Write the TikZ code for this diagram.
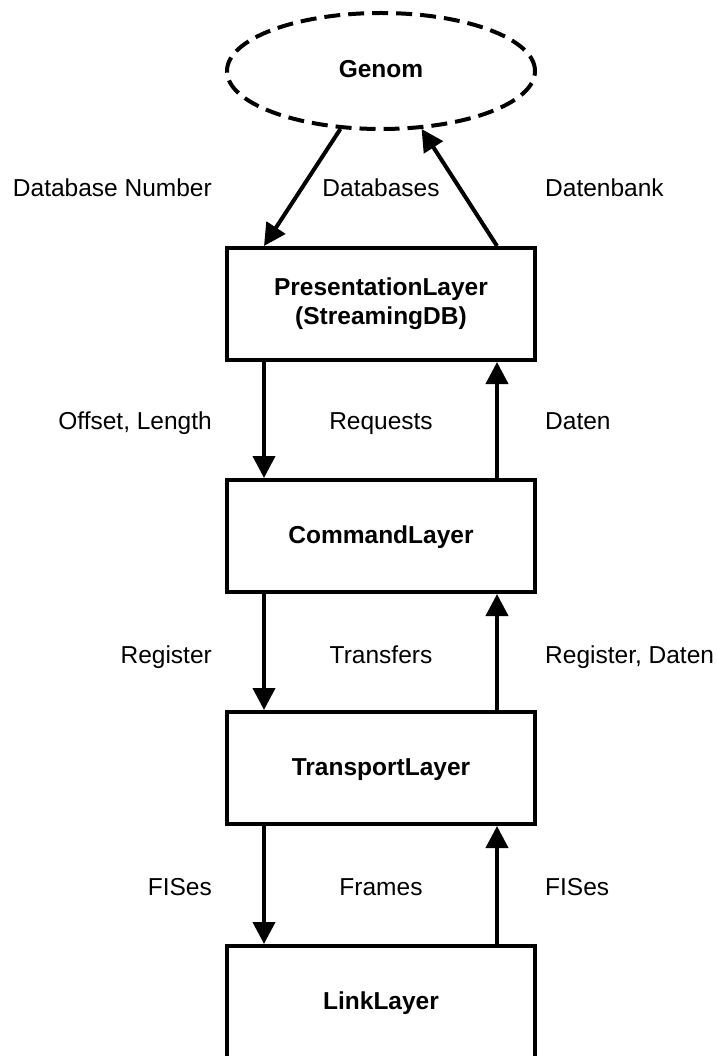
\documentclass[tikz,border=0pt]{standalone}
\usepackage{fontspec}
\setmainfont{Liberation Sans}
\usetikzlibrary{arrows.meta}
\usetikzlibrary{shapes.geometric}
\tikzset{layer/.style={draw,line width=4pt,minimum width=308pt,minimum height=112pt,
                       inner sep=0pt,align=center,
                       font=\fontsize{24.5}{29}\selectfont\bfseries}}
\tikzset{source/.style={layer,ellipse,dash pattern=on 16pt off 8pt,minimum height=116pt}}

\begin{document}
\begin{tikzpicture}[x=1pt,y=-1pt,>={Triangle[length=22pt,width=22pt]},
                    text height=18pt,text depth=4pt]
	\tikzstyle{lbl}=[inner sep=0pt,font=\fontsize{24.5}{29}\selectfont]
	\tikzstyle{lbl west}=[lbl,anchor=west]
	\tikzstyle{lbl east}=[lbl,anchor=east]
    % page size of the original drawing, the last box runs off the bottom
    \useasboundingbox (0,0) rectangle (716,1056);
    \clip (0,0) rectangle (716,1056);

  % The layers, one under the other:
    \node (genom) [source] at (381,71) {Genom};
    \node (pres)  [layer,text height=,text depth=] at (381,304) {PresentationLayer\\(StreamingDB)};
    \node (cmd)   [layer] at (381,536)  {CommandLayer};
    \node (trans) [layer] at (381,768)  {TransportLayer};
    \node (link)  [layer] at (381,1002) {LinkLayer};

    % Labels between the layers: left / middle / right
    \node (l_db)   [lbl east] at (212,190) {Database Number};
    \node (m_db)   [lbl]      at (381,190) {Databases};
    \node (r_db)   [lbl west] at (545,190) {Datenbank};

    \node (l_cmd)  [lbl east] at (212,422) {Offset, Length};
    \node (m_cmd)  [lbl]      at (381,422) {Requests};
    \node (r_cmd)  [lbl west] at (545,422) {Daten};

    \node (l_tr)   [lbl east] at (212,656) {Register};
    \node (m_tr)   [lbl]      at (381,656) {Transfers};
    \node (r_tr)   [lbl west] at (545,656) {Register, Daten};

    \node (l_ln)   [lbl east] at (212,888) {FISes};
    \node (m_ln)   [lbl]      at (381,888) {Frames};
    \node (r_ln)   [lbl west] at (545,888) {FISes};

    % The arrows: down on the left, up on the right
    \path[->,line width=4pt]
        (genom.235) edge ([xshift=39pt]pres.north west)
        ([xshift=-40pt]pres.north east) edge (genom.305)

        ([xshift=39pt]pres.south west) edge ([xshift=39pt]cmd.north west)
        ([xshift=-40pt]cmd.north east) edge ([xshift=-40pt]pres.south east)

        ([xshift=39pt]cmd.south west) edge ([xshift=39pt]trans.north west)
        ([xshift=-40pt]trans.north east) edge ([xshift=-40pt]cmd.south east)

        ([xshift=39pt]trans.south west) edge ([xshift=39pt]link.north west)
        ([xshift=-40pt]link.north east) edge ([xshift=-40pt]trans.south east)
        ;

\end{tikzpicture}
\end{document}
